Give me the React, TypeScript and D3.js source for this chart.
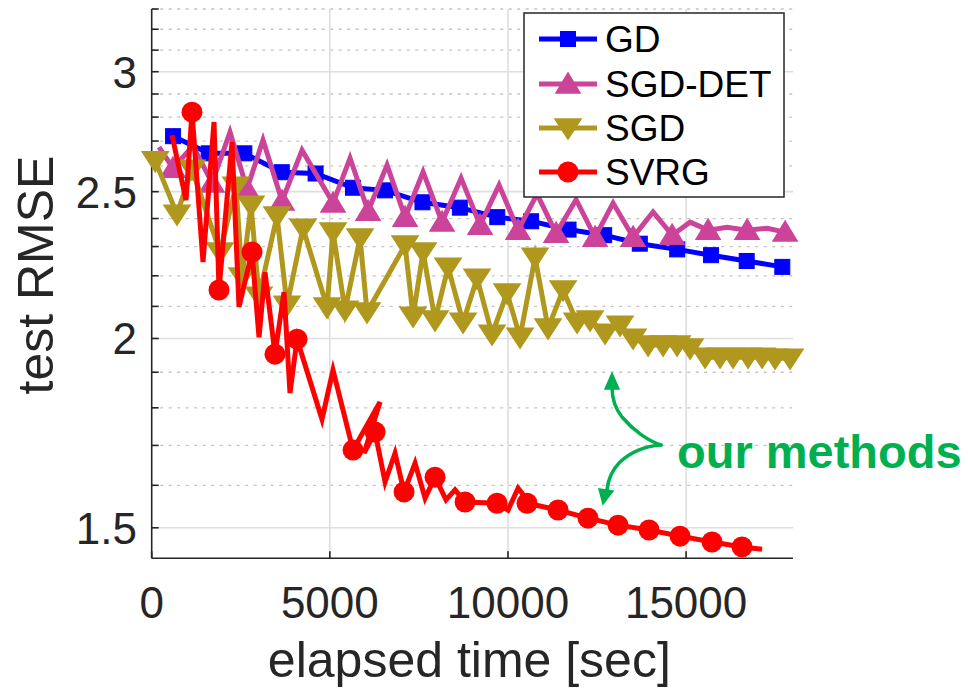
import React from "react";
import * as d3 from "d3";

const xTicks = [0, 5000, 10000, 15000];
const yMajor = [1.5, 2, 2.5, 3];
const yMinor = [1.6, 1.7, 1.8, 1.9, 2.1, 2.2, 2.3, 2.4, 2.6, 2.7, 2.8, 2.9, 3.1, 3.2, 3.3];

const seriesNames = ["GD", "SGD-DET", "SGD", "SVRG"];

const gdTime = [600, 1600, 2600, 3650, 4600, 5650, 6550, 7600, 8650, 9700, 10650, 11700, 12700, 13700, 14750, 15700, 16700, 17700];
const gdRmse = [2.72, 2.65, 2.65, 2.575, 2.57, 2.515, 2.505, 2.46, 2.44, 2.405, 2.39, 2.36, 2.34, 2.31, 2.29, 2.27, 2.25, 2.23];

const sgdDetTime = [205, 598, 1159, 1693, 2198, 2675, 3124, 3658, 4220, 5090, 5567, 6073, 6606, 7112, 7617, 8150, 8684, 9217, 9750, 10284, 10817, 11350, 11912, 12445, 12950, 13512, 14073, 14607, 15112, 15617, 16150, 16712, 17273, 17778];
const sgdDetRmse = [2.675, 2.591, 2.68, 2.533, 2.737, 2.51, 2.704, 2.465, 2.663, 2.457, 2.631, 2.427, 2.603, 2.405, 2.576, 2.387, 2.552, 2.376, 2.525, 2.358, 2.491, 2.347, 2.47, 2.333, 2.457, 2.333, 2.424, 2.34, 2.387, 2.358, 2.368, 2.358, 2.365, 2.351];
const sgdDetMarkers = [1, 3, 5, 7, 9, 11, 13, 15, 17, 19, 21, 23, 25, 27, 29, 31, 33];

const sgdTime = [100, 710, 1131, 1917, 2366, 2535, 2787, 3012, 3517, 3798, 4247, 4921, 5090, 5426, 5848, 6044, 7111, 7336, 7617, 7953, 8318, 8739, 9132, 9553, 9974, 10339, 10760, 11125, 11546, 11939, 12304, 12725, 13146, 13511, 13932, 14353, 14746, 15111, 15532, 15953, 16318, 16739, 17132, 17497, 17918];
const sgdRmse = [2.62, 2.416, 2.587, 2.281, 2.521, 2.196, 2.449, 2.133, 2.409, 2.104, 2.365, 2.098, 2.351, 2.088, 2.33, 2.082, 2.305, 2.069, 2.281, 2.057, 2.229, 2.05, 2.192, 2.013, 2.143, 2.004, 2.263, 2.032, 2.153, 2.05, 2.057, 2.016, 2.041, 2.001, 1.98, 1.98, 1.98, 1.971, 1.944, 1.944, 1.944, 1.944, 1.944, 1.941, 1.941];

const svrgTime = [570, 963, 1131, 1440, 1749, 1889, 2254, 2450, 2815, 3012, 3180, 3461, 3714, 3882, 4079, 4780, 5089, 5651, 6409, 5960, 6269, 6550, 6830, 7083, 7392, 7673, 7953, 8261, 8514, 8795, 9693, 10002, 10283, 10395, 10535, 11405, 12247, 13090, 13960, 14830, 15728, 16570, 17132];
const svrgRmse = [2.724, 2.468, 2.821, 2.246, 2.779, 2.153, 2.696, 2.098, 2.281, 2.004, 2.212, 1.953, 2.146, 1.841, 1.998, 1.769, 1.906, 1.688, 1.816, 1.68, 1.735, 1.608, 1.68, 1.584, 1.655, 1.569, 1.62, 1.565, 1.589, 1.56, 1.557, 1.541, 1.593, 1.581, 1.557, 1.541, 1.522, 1.506, 1.495, 1.481, 1.468, 1.457, 1.452];
const svrgMarkers = [2, 5, 8, 11, 14, 17, 20, 23, 26, 29, 30, 34, 35, 36, 37, 38, 39, 40, 41];

const colors = ["#0000FF", "#CC4499", "#B0981E", "#FF0000"];
const FONT = "'Liberation Sans', Arial, Helvetica, sans-serif";
const AXC = "#262626";

type Pt = { t: number; v: number };

function zip(t: number[], v: number[]): Pt[] {
  return t.map((tt, i) => ({ t: tt, v: v[i] }));
}

function Marker({ kind, x, y, color }: { kind: string; x: number; y: number; color: string }) {
  if (kind === "square") {
    return <rect x={x - 7.5} y={y - 7.5} width={15} height={15} fill={color} stroke={color} strokeWidth={1} />;
  }
  if (kind === "up") {
    return <polygon points={`${x},${y - 11} ${x + 12},${y + 9} ${x - 12},${y + 9}`} fill={color} stroke={color} strokeWidth={1.5} strokeLinejoin="miter" />;
  }
  if (kind === "down") {
    return <polygon points={`${x - 13},${y - 9} ${x + 13},${y - 9} ${x},${y + 11}`} fill={color} stroke={color} strokeWidth={1.5} strokeLinejoin="miter" />;
  }
  return <circle cx={x} cy={y} r={10.5} fill={color} />;
}

export default function App() {
  const left = 151.7, right = 793, top = 9, bottom = 558.3;
  const x = d3.scaleLinear().domain([0, 18000]).range([left, right]);
  const y = d3.scaleLog().domain([1.432, 3.3]).range([bottom, top]);
  const line = d3.line<Pt>().x((d) => x(d.t)).y((d) => y(d.v));

  const series = [
    { pts: zip(gdTime, gdRmse), marks: gdTime.map((_, i) => i), kind: "square" },
    { pts: zip(sgdDetTime, sgdDetRmse), marks: sgdDetMarkers, kind: "up" },
    { pts: zip(sgdTime, sgdRmse), marks: sgdTime.map((_, i) => i), kind: "down" },
    { pts: zip(svrgTime, svrgRmse), marks: svrgMarkers, kind: "circle" },
  ];

  const legendX = 524, legendY = 13, legendW = 260, legendH = 184;
  const legendRows = [39, 84, 128, 172];
  const green = "#00B050";

  return (
    <svg width={968} height={688} style={{ position: "absolute", left: 0, top: 0, background: "#fff" }} fontFamily={FONT}>
      <rect x={0} y={0} width={968} height={688} fill="#fff" />
      {/* grid */}
      {yMinor.map((v) => (
        <line key={"mn" + v} x1={left} x2={right} y1={y(v)} y2={y(v)} stroke="#c4c4c4" strokeWidth={1.3} strokeDasharray="3 5.5" />
      ))}
      {yMajor.map((v) => (
        <line key={"mj" + v} x1={left} x2={right} y1={y(v)} y2={y(v)} stroke="#dedede" strokeWidth={1.6} />
      ))}
      {xTicks.filter((t) => t > 0).map((t) => (
        <line key={"xg" + t} x1={x(t)} x2={x(t)} y1={top} y2={bottom} stroke="#dedede" strokeWidth={1.6} />
      ))}
      {/* axes */}
      <line x1={left} x2={left} y1={top} y2={bottom} stroke={AXC} strokeWidth={1.6} />
      <line x1={left} x2={right} y1={bottom} y2={bottom} stroke={AXC} strokeWidth={1.6} />
      {yMajor.concat(yMinor).map((v) => (
        <line key={"yt" + v} x1={left} x2={left + 7} y1={y(v)} y2={y(v)} stroke={AXC} strokeWidth={1.6} />
      ))}
      {xTicks.map((t) => (
        <line key={"xt" + t} x1={x(t)} x2={x(t)} y1={bottom} y2={bottom - 7} stroke={AXC} strokeWidth={1.6} />
      ))}
      {yMajor.map((v) => (
        <text key={"yl" + v} x={137} y={y(v)} dy="0.36em" textAnchor="end" fontSize={44} fill={AXC}>
          {String(v)}
        </text>
      ))}
      {xTicks.map((t) => (
        <text key={"xl" + t} x={x(t)} y={618} textAnchor="middle" fontSize={44} fill={AXC}>
          {String(t)}
        </text>
      ))}
      <text x={(left + right) / 2 - 3} y={677} textAnchor="middle" fontSize={50} fill={AXC}>
        elapsed time [sec]
      </text>
      <text transform="translate(53,275) rotate(-90)" textAnchor="middle" fontSize={50} fill={AXC}>
        test RMSE
      </text>

      {/* series */}
      {series.map((s, si) => (
        <g key={"s" + si}>
          <path d={line(s.pts) || ""} fill="none" stroke={colors[si]} strokeWidth={5} strokeLinejoin="miter" strokeMiterlimit={6} />
          {s.marks.map((mi) => (
            <Marker key={mi} kind={s.kind} x={x(s.pts[mi].t)} y={y(s.pts[mi].v)} color={colors[si]} />
          ))}
        </g>
      ))}

      {/* legend */}
      <rect x={legendX} y={legendY} width={legendW} height={legendH} fill="#fff" stroke={AXC} strokeWidth={1.5} />
      {seriesNames.map((name, i) => (
        <g key={"lg" + i}>
          <line x1={539} x2={597} y1={legendRows[i]} y2={legendRows[i]} stroke={colors[i]} strokeWidth={5} />
          <Marker kind={series[i].kind} x={568} y={legendRows[i]} color={colors[i]} />
          <text x={605} y={legendRows[i]} dy="0.36em" fontSize={37} fill="#000">
            {name}
          </text>
        </g>
      ))}

      {/* annotation */}
      <path d="M661,445 C648,441 633,430 622,417 C614,407 612,398 612,387" fill="none" stroke={green} strokeWidth={3.5} strokeLinecap="round" />
      <polygon points="612,373 619,389 605,389" fill={green} stroke={green} strokeWidth={1.5} />
      <path d="M661,445 C646,446 632,451 620,462 C611,471 608,480 607,490" fill="none" stroke={green} strokeWidth={3.5} strokeLinecap="round" />
      <polygon points="603,504 599,489 613,491" fill={green} stroke={green} strokeWidth={1.5} />
      <text x={677} y={468} fontSize={47} fontWeight="bold" fill={green}>
        our methods
      </text>
    </svg>
  );
}
